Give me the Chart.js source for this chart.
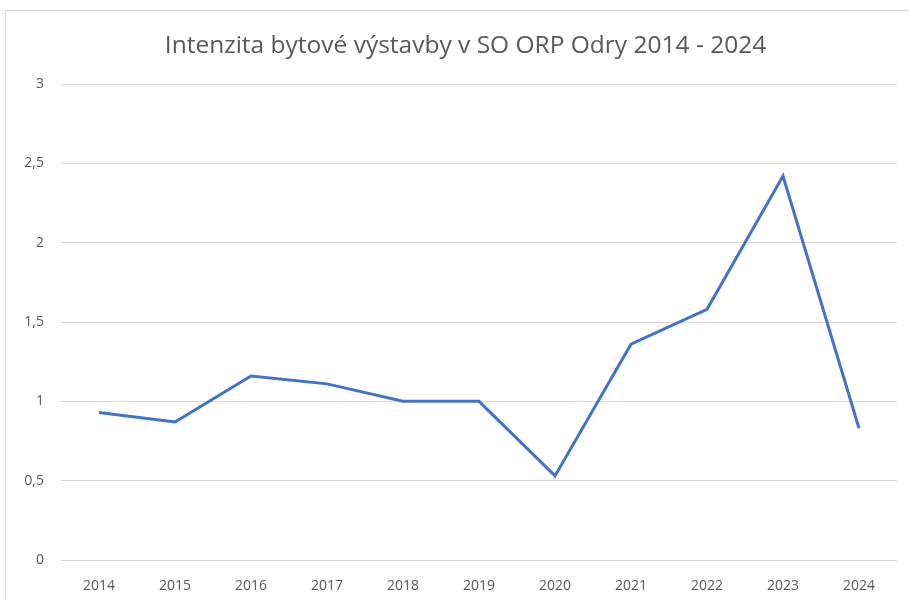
<!DOCTYPE html>
<html>
<head>
<meta charset="utf-8">
<script src="https://cdn.jsdelivr.net/npm/chart.js@4"></script>
<style>
  html, body { margin: 0; padding: 0; background: #fff; }
  #wrap { position: relative; width: 909px; height: 600px; overflow: hidden; }
  #frame { position: absolute; left: 5px; top: 10px; width: 940px; height: 640px; border: 1px solid #d9d9d9; box-sizing: border-box; }
  canvas { position: absolute; left: 0; top: 0; }
</style>
</head>
<body>
<div id="wrap">
  <div id="frame"></div>
  <canvas id="chart" width="909" height="600"></canvas>
</div>
<script>
// years on the x axis
const years = ['2014', '2015', '2016', '2017', '2018', '2019', '2020', '2021', '2022', '2023', '2024'];
// intensity values
const intensity = [0.93, 0.87, 1.16, 1.11, 1.0, 1.0, 0.53, 1.36, 1.58, 2.42, 0.83];
const yTicks = [0, 0.5, 1, 1.5, 2, 2.5, 3];

const textColor = '#595959';
const gridColor = '#d9d9d9';
const fontFamily = '"Open Sans", Lato, sans-serif';

// nudge the title box so its centre sits where the reference has it
const shiftTitle = {
    id: 'shiftTitle',
    afterLayout(chart) {
        if (chart.titleBlock) chart.titleBlock.left += 34;
    }
};

new Chart(document.getElementById('chart'), {
    type: 'line',
    data: {
        labels: years,
        datasets: [{
            data: intensity,
            borderColor: '#4472C4',
            borderWidth: 3,
            pointRadius: 0,
            tension: 0,
            fill: false
        }]
    },
    options: {
        responsive: false,
        animation: false,
        layout: { padding: { left: 0, right: 12, top: 0, bottom: 0 } },
        plugins: {
            legend: { display: false },
            tooltip: { enabled: false },
            title: {
                display: true,
                text: 'Intenzita bytové výstavby v SO ORP Odry 2014 - 2024',
                color: textColor,
                font: { family: fontFamily, size: 24.5, weight: 'normal', lineHeight: 1.2 },
                padding: { top: 31, bottom: 23.6 }
            }
        },
        scales: {
            x: {
                offset: true,
                grid: { display: false, drawTicks: false },
                border: { display: false },
                ticks: { color: textColor, font: { family: fontFamily, size: 14 }, padding: 18, maxRotation: 0 },
                afterFit: (s) => { s.height = 40; }
            },
            y: {
                min: 0,
                max: 3,
                afterBuildTicks: (s) => { s.ticks = yTicks.map(v => ({ value: v })); },
                grid: { color: gridColor, lineWidth: 1, drawTicks: false },
                border: { display: false },
                ticks: {
                    color: textColor,
                    font: { family: fontFamily, size: 14 },
                    padding: 17,
                    callback: (v) => String(v).replace('.', ',')
                },
                afterFit: (s) => { s.width = 61; }
            }
        }
    },
    plugins: [shiftTitle]
});
</script>
</body>
</html>
